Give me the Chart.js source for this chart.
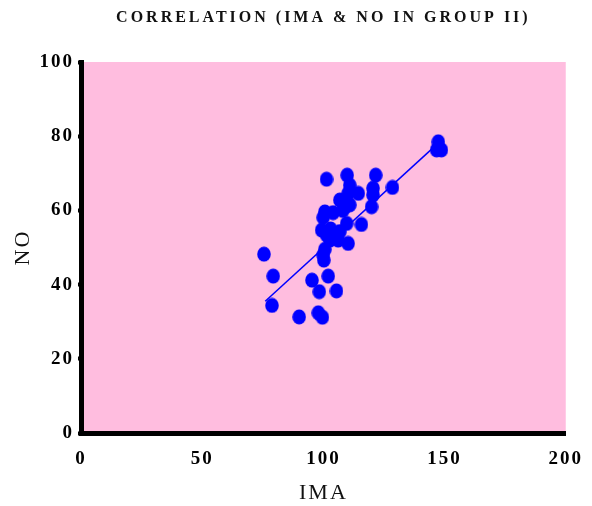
<!DOCTYPE html>
<html>
<head>
<meta charset="utf-8">
<script src="https://cdn.jsdelivr.net/npm/chart.js@4/dist/chart.umd.min.js"></script>
<style>
  html, body { margin: 0; padding: 0; background: #ffffff; }
  #wrap { width: 592px; height: 506px; position: relative; }
</style>
</head>
<body>
<div id="wrap"><canvas id="corrChart"></canvas></div>
<script>
// IMA vs NO, group II
const imaValues = [
  75.5, 79.3, 78.8, 90.0, 97.9, 99.6, 95.3, 102.0, 98.3, 105.4,
  100.2, 99.9, 100.6, 102.7, 106.1, 110.2, 99.3, 101.3, 106.8, 109.6,
  115.7, 99.9, 100.6, 104.0, 106.8, 108.9, 110.9, 110.2, 110.9, 114.4,
  101.3, 109.8, 121.6, 120.5, 120.5, 119.9, 128.5, 147.4, 148.7, 146.7,
  103.0, 108.0
];
const noValues = [
  48.2, 42.3, 34.4, 31.3, 32.4, 31.2, 41.2, 42.3, 38.1, 38.3,
  46.6, 48.0, 49.5, 52.0, 52.0, 51.1, 54.7, 53.4, 54.3, 56.5,
  56.2, 58.1, 59.6, 59.4, 62.8, 61.0, 61.5, 64.6, 66.8, 64.6,
  68.4, 69.5, 69.5, 66.0, 64.2, 61.0, 66.2, 78.5, 76.3, 76.3,
  55.0, 60.0
];

// fitted line end points
const fitX = [76, 147.5];
const fitY = [35.5, 78.2];

const xTicks = [0, 50, 100, 150, 200];
const yTicks = [0, 20, 40, 60, 80, 100];

const chartTitle = 'CORRELATION (IMA & NO IN GROUP II)';
const serif = "'Liberation Serif', 'Times New Roman', serif";

const points = imaValues.map((x, i) => ({ x: x, y: noValues[i] }));
const fitLine = fitX.map((x, i) => ({ x: x, y: fitY[i] }));

// slightly tall oval marker
const dot = document.createElement('canvas');
dot.width = 14;
dot.height = 16;
(function () {
  const c = dot.getContext('2d');
  c.fillStyle = '#0000ff';
  c.beginPath();
  c.ellipse(7, 8, 6.8, 7.6, 0, 0, Math.PI * 2);
  c.fill();
})();

const plotBg = {
  id: 'plotBg',
  beforeDraw(chart) {
    const { ctx, chartArea: a } = chart;
    ctx.letterSpacing = '2px';
    ctx.save();
    ctx.fillStyle = '#ffbddf';
    ctx.fillRect(a.left, a.top, a.right - a.left, a.bottom - a.top);
    ctx.restore();
  },
  afterDraw(chart) {
    const { ctx, chartArea: a } = chart;
    ctx.save();
    ctx.letterSpacing = '3px';
    ctx.font = 'bold 16px ' + serif;
    ctx.fillStyle = '#111111';
    ctx.textAlign = 'center';
    ctx.textBaseline = 'middle';
    ctx.fillText(chartTitle, (a.left + a.right) / 2, 18);
    ctx.restore();
  }
};

new Chart(document.getElementById('corrChart'), {
  type: 'scatter',
  data: {
    datasets: [
      {
        label: 'NO',
        data: points,
        pointStyle: dot,
        backgroundColor: '#0000ff',
        borderColor: '#0000ff',
        pointRadius: 7,
        pointHoverRadius: 7,
        borderWidth: 0
      },
      {
        type: 'line',
        label: 'fit',
        data: fitLine,
        borderColor: '#0000ff',
        borderWidth: 1.5,
        pointRadius: 0,
        fill: false
      }
    ]
  },
  options: {
    responsive: true,
    maintainAspectRatio: false,
    animation: false,
    layout: { padding: { top: 62, right: 26, left: 0, bottom: 0 } },
    plugins: { legend: { display: false }, tooltip: { enabled: false } },
    scales: {
      x: {
        type: 'linear',
        min: 0, max: 200,
        afterFit: s => { s.height = 73; },
        afterBuildTicks: s => { s.ticks = xTicks.map(v => ({ value: v })); },
        border: { display: true, color: '#000000', width: 5 },
        grid: { drawOnChartArea: false, drawTicks: true, tickLength: 3, tickWidth: 4, tickColor: '#000000' },
        ticks: { color: '#000000', padding: 12, maxRotation: 0, font: { family: serif, size: 19, weight: 'bold' } },
        title: { display: true, text: 'IMA', color: '#111111', padding: { top: 0, bottom: 0 }, font: { family: serif, size: 22 } }
      },
      y: {
        type: 'linear',
        min: 0, max: 100,
        afterFit: s => { s.width = 81; },
        afterBuildTicks: s => { s.ticks = yTicks.map(v => ({ value: v })); },
        border: { display: true, color: '#000000', width: 5 },
        grid: { drawOnChartArea: false, drawTicks: true, tickLength: 3, tickWidth: 4, tickColor: '#000000' },
        ticks: { color: '#000000', padding: 4, font: { family: serif, size: 19, weight: 'bold' } },
        title: { display: true, text: 'NO', color: '#111111', padding: { top: 10, bottom: 0 }, font: { family: serif, size: 22 } }
      }
    }
  },
  plugins: [plotBg]
});
</script>
</body>
</html>
